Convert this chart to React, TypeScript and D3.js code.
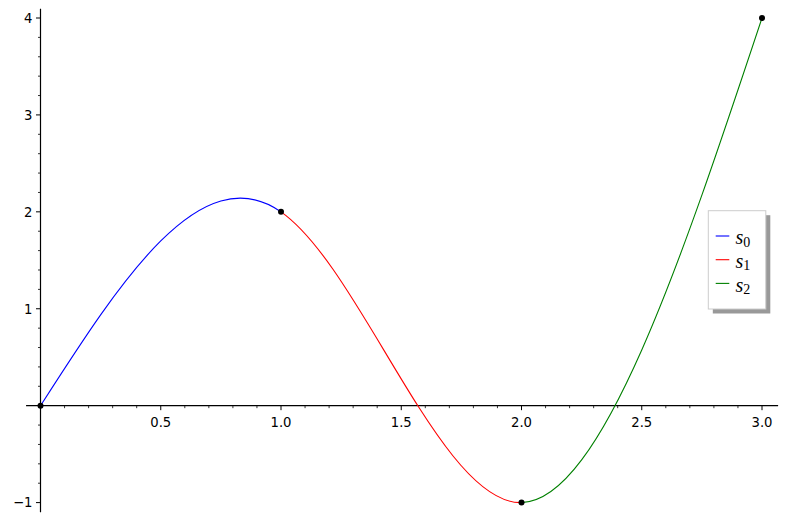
import React from "react";
import * as d3 from "d3";

// Knot points of the cubic spline
const knotX = [0, 1, 2, 3];
const knotY = [0, 2, -1, 4];
// Segment names and colours
const seriesNames = ["0", "1", "2"];
const seriesColors = ["#0000ff", "#ff0000", "#008000"];
// Tick values
const xMajorTicks = [0.5, 1.0, 1.5, 2.0, 2.5, 3.0];
const xTickLabels = ["0.5", "1.0", "1.5", "2.0", "2.5", "3.0"];
const yMajorTicks = [-1, 1, 2, 3, 4];
const yTickLabels = ["\u22121", "1", "2", "3", "4"];

const W = 787;
const H = 522;

export default function App() {
  const x = d3.scaleLinear().domain([0, 3]).range([40.5, 762]);
  const y = d3.scaleLinear().domain([-1, 4]).range([502.6, 18]);

  const xMinor = d3.range(1, 31).map((i) => i / 10).filter((v) => Math.abs(v * 2 - Math.round(v * 2)) > 1e-9);
  const yMinor = d3.range(-5, 21).map((i) => i / 5).filter((v) => Math.abs(v - Math.round(v)) > 1e-9);

  const pts: [number, number][] = knotX.map((v, i) => [v, knotY[i]]);
  const line = d3
    .line<[number, number]>()
    .x((d) => x(d[0]))
    .y((d) => y(d[1]))
    .curve(d3.curveNatural);
  const pathD = line(pts) || "";

  const axisY0 = y(0);
  const axisX0 = x(0);
  const xAxisStart = x(-0.06);
  const xAxisEnd = x(3.067);
  const yAxisTop = y(4.095);
  const yAxisBottom = y(-1.1);

  const font = "'DejaVu Sans', sans-serif";

  // legend
  const lgX = 708.3;
  const lgY = 210.7;
  const lgW = 57.5;
  const lgH = 98.3;

  return (
    <svg
      width={W}
      height={H}
      style={{ position: "fixed", left: 0, top: 0, background: "#fff" }}
      xmlns="http://www.w3.org/2000/svg"
    >
      <defs>
        {seriesNames.map((_, i) => (
          <clipPath id={`seg${i}`} key={i}>
            <rect x={x(knotX[i])} y={0} width={x(knotX[i + 1]) - x(knotX[i])} height={H} />
          </clipPath>
        ))}
      </defs>
      <rect x={0} y={0} width={W} height={H} fill="#fff" />

      {/* axes */}
      <line x1={xAxisStart} x2={xAxisEnd} y1={axisY0} y2={axisY0} stroke="#000" strokeWidth={1.2} />
      <line x1={axisX0} x2={axisX0} y1={yAxisTop} y2={yAxisBottom} stroke="#000" strokeWidth={1.2} />

      {/* x ticks */}
      {xMinor.map((v) => (
        <line key={"xm" + v} x1={x(v)} x2={x(v)} y1={axisY0} y2={axisY0 + 2.5} stroke="#000" strokeWidth={0.8} />
      ))}
      {xMajorTicks.map((v, i) => (
        <g key={"xM" + v}>
          <line x1={x(v)} x2={x(v)} y1={axisY0} y2={axisY0 + 4.5} stroke="#000" strokeWidth={1} />
          <text x={x(v)} y={axisY0 + 21} textAnchor="middle" fontFamily={font} fontSize={13.2} fill="#000">
            {xTickLabels[i]}
          </text>
        </g>
      ))}

      {/* y ticks */}
      {yMinor.map((v) => (
        <line key={"ym" + v} x1={axisX0} x2={axisX0 - 2.5} y1={y(v)} y2={y(v)} stroke="#000" strokeWidth={0.8} />
      ))}
      {yMajorTicks.map((v, i) => (
        <g key={"yM" + v}>
          <line x1={axisX0} x2={axisX0 - 4.5} y1={y(v)} y2={y(v)} stroke="#000" strokeWidth={1} />
          <text x={axisX0 - 8} y={y(v) + 4.8} textAnchor="end" fontFamily={font} fontSize={13.2} fill="#000">
            {yTickLabels[i]}
          </text>
        </g>
      ))}

      {/* spline segments */}
      {seriesNames.map((_, i) => (
        <path
          key={"p" + i}
          d={pathD}
          fill="none"
          stroke={seriesColors[i]}
          strokeWidth={1.1}
          clipPath={`url(#seg${i})`}
        />
      ))}

      {/* knot points */}
      {pts.map((d, i) => (
        <circle key={"c" + i} cx={x(d[0])} cy={y(d[1])} r={3} fill="#000" />
      ))}

      {/* legend */}
      <rect x={lgX + 4.5} y={lgY + 4.5} width={lgW} height={lgH} fill="#999" />
      <rect x={lgX} y={lgY} width={lgW} height={lgH} fill="#fff" stroke="#ccc" strokeWidth={1} />
      {seriesNames.map((n, i) => {
        const ly = 236 + i * 23.7;
        return (
          <g key={"lg" + i}>
            <line x1={715.7} x2={729.3} y1={ly} y2={ly} stroke={seriesColors[i]} strokeWidth={1.1} />
            <text x={735.5} y={ly + 8.3} fontFamily="'Liberation Serif', serif" fontSize={20} fill="#000">
              <tspan fontStyle="italic">s</tspan>
              <tspan fontSize={14} dy={2.4}>{n}</tspan>
            </text>
          </g>
        );
      })}
    </svg>
  );
}
